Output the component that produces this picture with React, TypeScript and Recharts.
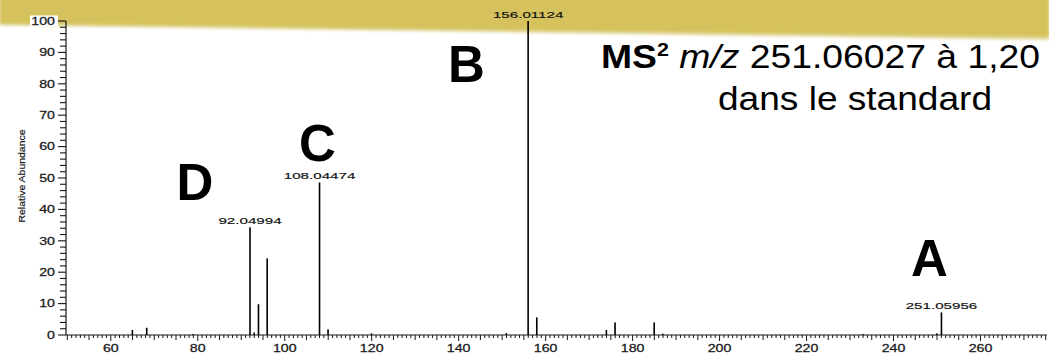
import React from 'react';
import { ComposedChart, Bar, XAxis, YAxis, LabelList } from 'recharts';

// MS² fragment spectrum: m/z of each centroid and its relative abundance (%)
const mzValues = [65.0, 68.3, 78.9, 92.05, 93.0, 94.0, 96.0, 108.04, 110.0, 120.0, 151.0, 156.01, 158.0, 174.0, 176.0, 185.0, 187.0, 233.0, 250.0, 251.06];
const abundances = [1.6, 2.3, 0.3, 34.3, 0.8, 9.8, 24.4, 48.6, 1.8, 0.5, 0.6, 100, 5.6, 1.6, 4.0, 4.0, 0.4, 0.3, 0.5, 7.2];
const peakLabels = ['', '', '', '92.04994', '', '', '', '108.04474', '', '', '', '156.01124', '', '', '', '', '', '', '', '251.05956'];

// Axis ticks
const xTicks: number[] = [];
for (let v = 50; v <= 275; v += 1) xTicks.push(v);
const xTickLabels = [60, 80, 100, 120, 140, 160, 180, 200, 220, 240, 260];
const yTicks: number[] = [];
for (let v = 0; v <= 100; v += 2) yTicks.push(v);
const yTickLabels = [0, 10, 20, 30, 40, 50, 60, 70, 80, 90, 100];

const peaks = mzValues.map((mz, i) => ({
  mz,
  abundance: abundances[i],
  label: peakLabels[i] || undefined,
}));

const FONT = "Arial, 'Liberation Sans', Helvetica, sans-serif";
const INK = '#161616';

const XTick = (props: any) => {
  const { x, y, payload } = props;
  const v = payload.value as number;
  const len = v % 20 === 0 ? 6 : v % 5 === 0 ? 5 : 3;
  return (
    <g>
      <line x1={x} x2={x} y1={y} y2={y + len} stroke={INK} strokeWidth={1} />
      {xTickLabels.includes(v) && (
        <text
          transform={`translate(${x},${y + 17}) scale(1.35,1)`}
          textAnchor="middle"
          fontSize={10.5}
          fontFamily={FONT}
          fill="#1a1a1a"
          stroke="#1a1a1a"
          strokeWidth={0.25}
        >
          {v}
        </text>
      )}
    </g>
  );
};

const YTick = (props: any) => {
  const { x, y, payload } = props;
  const v = payload.value as number;
  const major = v % 10 === 0;
  const len = major ? 8 : 6;
  return (
    <g>
      <line x1={x - len} x2={x} y1={y} y2={y} stroke={INK} strokeWidth={1.1} />
      {major && v === 100 && <rect x={x - 36} y={y - 5.5} width={28} height={11} fill="#fff" />}
      {yTickLabels.includes(v) && (
        <text
          transform={`translate(${x - 11},${y + 3.7}) scale(1.35,1)`}
          textAnchor="end"
          fontSize={10.5}
          fontFamily={FONT}
          fill="#1a1a1a"
          stroke="#1a1a1a"
          strokeWidth={0.25}
        >
          {v}
        </text>
      )}
    </g>
  );
};

const PeakLine = (props: any) => {
  const { x, y, width, height } = props;
  if (height == null || height <= 0) return null;
  return <rect x={x + width / 2 - 0.8} y={y} width={1.6} height={height} fill="#000" />;
};

const PeakLabel = (props: any) => {
  const { x, y, width, value } = props;
  if (!value) return null;
  return (
    <text
      transform={`translate(${x + width / 2},${y - 3.5}) scale(1.63,1)`}
      textAnchor="middle"
      fontSize={9.3}
      fontFamily={FONT}
      fill="#111"
      stroke="#111"
      strokeWidth={0.15}
    >
      {value}
    </text>
  );
};

export default function App() {
  const W = 1049;
  const H = 356;
  return (
    <div style={{ position: 'absolute', left: 0, top: 0, width: W, height: H, background: '#fff', overflow: 'hidden' }}>
      {/* slanted header band */}
      <svg width={W} height={H} style={{ position: 'absolute', left: 0, top: 0 }}>
        <defs>
          <filter id="soft" x="-5%" y="-50%" width="110%" height="200%">
            <feGaussianBlur stdDeviation="1.6" />
          </filter>
        </defs>
        <polygon points={`0,-10 ${W},-10 ${W},40 0,25.5`} fill="#e4dba6" filter="url(#soft)" />
        <polygon points={`0,-10 ${W},-10 ${W},37 0,23.5`} fill="#d5c25c" filter="url(#soft)" />
      </svg>

      <div style={{ position: 'absolute', left: 0, top: 0 }}>
        <ComposedChart width={W} height={H} data={peaks} margin={{ top: 21, right: 2, bottom: 0, left: 0 }}>
          <XAxis
            type="number"
            dataKey="mz"
            domain={[49.7, 275.3]}
            ticks={xTicks}
            interval={0}
            tickSize={0}
            tickMargin={0}
            tickLine={false}
            tick={XTick}
            axisLine={{ stroke: INK, strokeWidth: 1.2 }}
            height={21}
            allowDataOverflow
          />
          <YAxis
            type="number"
            domain={[0, 100]}
            ticks={yTicks}
            interval={0}
            tickSize={0}
            tickMargin={0}
            tickLine={false}
            tick={YTick}
            axisLine={{ stroke: INK, strokeWidth: 1.2 }}
            width={66}
            allowDataOverflow
          />
          <Bar dataKey="abundance" isAnimationActive={false} shape={PeakLine}>
            <LabelList dataKey="label" content={PeakLabel} />
          </Bar>
        </ComposedChart>
      </div>

      {/* annotations */}
      <svg width={W} height={H} style={{ position: 'absolute', left: 0, top: 0, pointerEvents: 'none' }}>
        <text
          transform="translate(25,176) rotate(-90)"
          textAnchor="middle"
          fontSize={9.8}
          fontFamily={FONT}
          fill="#1a1a1a"
          stroke="#1a1a1a"
          strokeWidth={0.2}
          textLength={93}
          lengthAdjust="spacingAndGlyphs"
        >
          Relative Abundance
        </text>

        <g fontFamily={FONT} fontWeight="bold" fontSize={51} fill="#000">
          <text x={448} y={82}>B</text>
          <text x={299} y={161}>C</text>
          <text x={176.5} y={200}>D</text>
          <text x={911} y={276}>A</text>
        </g>

        <text x={601} y={67.5} fontFamily={FONT} fontSize={33} fill="#000" textLength={439} lengthAdjust="spacingAndGlyphs">
          <tspan fontWeight="bold">MS</tspan>
          <tspan fontWeight="bold" fontSize={19} dy={-12}>2</tspan>
          <tspan dy={12} fontStyle="italic"> m/z</tspan>
          <tspan> 251.06027 à 1,20</tspan>
        </text>
        <text x={718} y={110} fontFamily={FONT} fontSize={33} fill="#000" textLength={274} lengthAdjust="spacingAndGlyphs">
          dans le standard
        </text>
      </svg>
    </div>
  );
}
